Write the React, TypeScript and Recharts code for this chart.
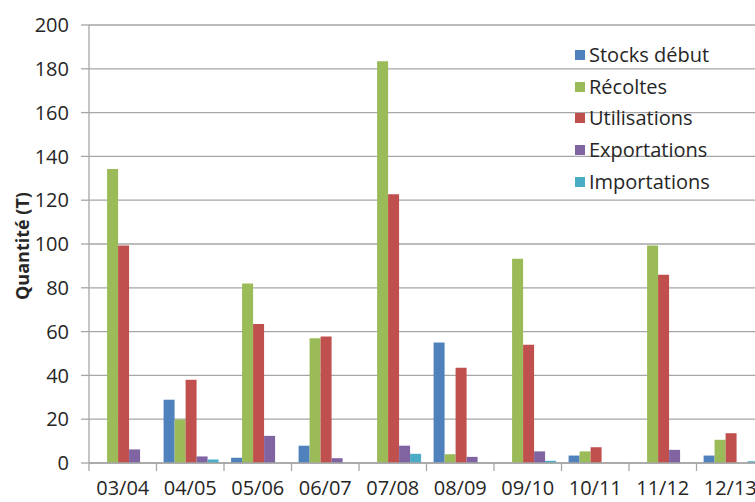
import { BarChart, Bar, XAxis, YAxis, CartesianGrid } from 'recharts'

const categories = ['03/04', '04/05', '05/06', '06/07', '07/08', '08/09', '09/10', '10/11', '11/12', '12/13']
const stocksDebut = [0, 28.9, 2.4, 7.9, 0, 55, 0, 3.4, 0, 3.4]
const recoltes = [134.2, 19.9, 82, 57, 183.4, 4, 93.3, 5.3, 99.3, 10.6]
const utilisations = [99.3, 38, 63.5, 57.8, 122.7, 43.5, 54, 7.2, 86, 13.6]
const exportations = [6.2, 3, 12.4, 2.2, 7.9, 2.8, 5.3, 0, 6, 0]
const importations = [0, 1.6, 0, 0, 4.2, 0, 1, 0, 0, 0.8]
const yTicks = [0, 20, 40, 60, 80, 100, 120, 140, 160, 180, 200]

const series = [
  { key: 'stocks', name: 'Stocks début', color: '#4F81BD' },
  { key: 'recoltes', name: 'Récoltes', color: '#9BBB59' },
  { key: 'utilisations', name: 'Utilisations', color: '#C0504D' },
  { key: 'exportations', name: 'Exportations', color: '#8064A2' },
  { key: 'importations', name: 'Importations', color: '#4BACC6' },
]

const data = categories.map((c, i) => ({
  name: c,
  stocks: stocksDebut[i],
  recoltes: recoltes[i],
  utilisations: utilisations[i],
  exportations: exportations[i],
  importations: importations[i],
}))

const CHART_W = 770
const CHART_H = 502
const MARGIN = { top: 25, right: 6, left: 0, bottom: 9 }
const Y_W = 89
const BAND = (CHART_W - MARGIN.left - MARGIN.right - Y_W) / categories.length

const TEXT = '#262626'
const GRID = '#a6a6a6'

// excel puts x tick marks between categories, not on them
function XTick(props: any) {
  const { x, y, payload } = props
  const left = x - BAND / 2
  return (
    <g>
      <line x1={left} x2={left} y1={y} y2={y + 8} stroke={GRID} strokeWidth={1.3} />
      <text x={x} y={y + 32} textAnchor="middle" fill={TEXT} fontSize={20}>
        {payload.value}
      </text>
    </g>
  )
}

function YLabel(props: any) {
  const { viewBox } = props
  const cx = viewBox.x + 22
  const cy = viewBox.y + viewBox.height / 2 + 2
  return (
    <text
      x={cx}
      y={cy}
      transform={`rotate(-90, ${cx}, ${cy})`}
      textAnchor="middle"
      dominantBaseline="central"
      fill={TEXT}
      fontSize={18}
      fontWeight="bold"
    >
      Quantité (T)
    </text>
  )
}

// drawn as plain html so recharts doesn't shrink the plot for it
function LegendBox() {
  return (
    <div style={{ position: 'absolute', left: 575, top: 39 }}>
      {series.map((s) => (
        <div key={s.key} style={{ display: 'flex', alignItems: 'center', height: 31.7, whiteSpace: 'nowrap' }}>
          <span style={{ width: 10, height: 10, background: s.color, marginRight: 4, display: 'inline-block' }} />
          <span style={{ fontSize: 20, color: TEXT, lineHeight: '20px' }}>{s.name}</span>
        </div>
      ))}
    </div>
  )
}

export default function App() {
  return (
    <div
      style={{
        position: 'fixed',
        left: 0,
        top: 0,
        width: 755,
        height: 502,
        overflow: 'hidden',
        background: '#fff',
        fontFamily: '"Open Sans", sans-serif',
      }}
    >
      <BarChart width={CHART_W} height={CHART_H} data={data} margin={MARGIN} barCategoryGap="10.5%" barGap={0}>
        <CartesianGrid vertical={false} stroke={GRID} strokeWidth={1.3} />
        <XAxis
          dataKey="name"
          height={30}
          stroke={GRID}
          strokeWidth={1.3}
          tickLine={false}
          tickSize={0}
          tickMargin={0}
          tick={<XTick />}
          interval={0}
        />
        <YAxis
          width={Y_W}
          domain={[0, 200]}
          ticks={yTicks}
          interval={0}
          stroke={GRID}
          strokeWidth={1.3}
          tickSize={8}
          tickMargin={12}
          tick={{ fill: TEXT, fontSize: 20 }}
          label={<YLabel />}
        />
        {series.map((s) => (
          <Bar key={s.key} dataKey={s.key} name={s.name} fill={s.color} isAnimationActive={false} />
        ))}
      </BarChart>
      <LegendBox />
    </div>
  )
}
